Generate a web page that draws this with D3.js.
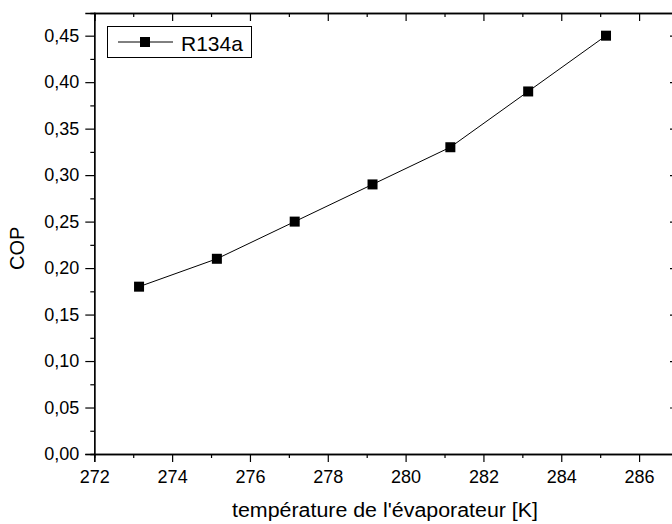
<!DOCTYPE html>
<html><head><meta charset="utf-8">
<script src="https://cdn.jsdelivr.net/npm/d3@7"></script>
<style>body{margin:0;background:#fff}svg{display:block;font-family:Arial,"Liberation Sans",sans-serif}</style>
</head><body>
<svg id="c" width="672" height="524"></svg>
<script>
const temps = [273.15, 275.15, 277.15, 279.15, 281.15, 283.15, 285.15];
const cop = [0.18, 0.21, 0.25, 0.29, 0.33, 0.39, 0.45];
const seriesName = "R134a";
const xTicks = [272, 274, 276, 278, 280, 282, 284, 286];
const yTicks = [0, 0.05, 0.10, 0.15, 0.20, 0.25, 0.30, 0.35, 0.40, 0.45];
const xTitle = "température de l'évaporateur [K]";
const yTitle = "COP";

const svg = d3.select("#c");
const L = 94.3, R = 678, T = 13, B = 454;
const x = d3.scaleLinear().domain([272, 287]).range([L, R]);
const y = d3.scaleLinear().domain([0, 0.4744]).range([B, T]);
const fmt = d => d.toFixed(2).replace(".", ",");
const xMinor = d3.range(273, 287, 2);
const yMinor = d3.range(0.025, 0.47, 0.05);

// bottom
svg.append("g").attr("transform", `translate(0,${B})`)
  .call(d3.axisBottom(x).tickValues(xTicks).tickSize(8).tickPadding(8).tickFormat(d3.format("d")));
svg.append("g").attr("transform", `translate(0,${B})`)
  .call(d3.axisBottom(x).tickValues(xMinor).tickSize(4).tickFormat(""));
// left
svg.append("g").attr("transform", `translate(${L},0)`)
  .call(d3.axisLeft(y).tickValues(yTicks).tickSize(9).tickPadding(6).tickFormat(fmt));
svg.append("g").attr("transform", `translate(${L},0)`)
  .call(d3.axisLeft(y).tickValues(yMinor).tickSize(4).tickFormat(""));
// top (inward)
svg.append("g").attr("transform", `translate(0,${T})`)
  .call(d3.axisBottom(x).tickValues(xTicks).tickSize(8).tickFormat(""));
svg.append("g").attr("transform", `translate(0,${T})`)
  .call(d3.axisBottom(x).tickValues(xMinor).tickSize(4).tickFormat(""));
// right (inward)
svg.append("g").attr("transform", `translate(${R},0)`)
  .call(d3.axisLeft(y).tickValues(yTicks).tickSize(0).tickFormat(""))
  .call(g => g.selectAll(".tick line").attr("x2", -8));
svg.append("g").attr("transform", `translate(${R},0)`)
  .call(d3.axisLeft(y).tickValues(yMinor).tickSize(0).tickFormat(""))
  .call(g => g.selectAll(".tick line").attr("x2", -4));

svg.selectAll(".domain").attr("stroke", "#000").attr("stroke-width", 1.3);
svg.selectAll(".tick line").attr("stroke", "#000").attr("stroke-width", 1.2);
svg.selectAll(".tick text").attr("font-size", 18).attr("fill", "#000").attr("font-family", "Arial, 'Liberation Sans', sans-serif");

// titles
svg.append("text").attr("x", 385).attr("y", 517).attr("text-anchor", "middle")
  .attr("font-size", 20).attr("textLength", 306).attr("lengthAdjust", "spacingAndGlyphs").text(xTitle);
svg.append("text").attr("transform", "translate(23.5,248.3) rotate(-90)").attr("text-anchor", "middle")
  .attr("font-size", 20).text(yTitle);

// data
const data = temps.map((t, i) => ({t, v: cop[i]}));
svg.append("path").datum(data)
  .attr("fill", "none").attr("stroke", "#000").attr("stroke-width", 1)
  .attr("d", d3.line().x(d => x(d.t)).y(d => y(d.v)));
const ms = 10;
svg.selectAll("rect.pt").data(data).join("rect").attr("class", "pt")
  .attr("x", d => x(d.t) - ms/2).attr("y", d => y(d.v) - ms/2)
  .attr("width", ms).attr("height", ms).attr("fill", "#000");

// legend
const lg = svg.append("g");
lg.append("rect").attr("x", 107.5).attr("y", 26.5).attr("width", 144).attr("height", 31)
  .attr("fill", "#fff").attr("stroke", "#000").attr("stroke-width", 1);
lg.append("line").attr("x1", 118).attr("x2", 173).attr("y1", 42).attr("y2", 42)
  .attr("stroke", "#000").attr("stroke-width", 1);
lg.append("rect").attr("x", 145 - ms/2).attr("y", 42 - ms/2).attr("width", ms).attr("height", ms).attr("fill", "#000");
lg.append("text").attr("x", 181).attr("y", 50.5).attr("font-size", 21).text(seriesName);
</script>
</body></html>
